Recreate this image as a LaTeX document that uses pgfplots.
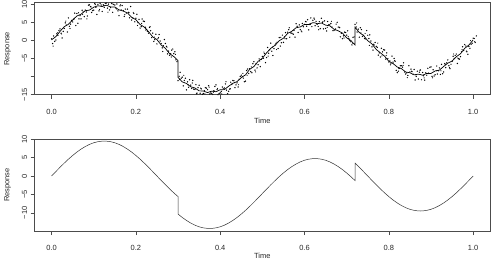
\documentclass[border=0pt]{standalone}
\usepackage{fontspec}
\setmainfont{Liberation Sans}
\usepackage{pgfplots}
\usepackage{pgfplotstable}
\pgfplotsset{compat=1.18}

\pgfplotstableread{
t f e
0.00 0.00 0.15
0.01 1.19 -0.20
0.02 2.36 0.10
0.03 3.49 0.25
0.04 4.57 -0.15
0.05 5.57 0.05
0.06 6.49 0.20
0.07 7.30 -0.10
0.08 8.00 0.15
0.09 8.58 -0.25
0.10 9.02 0.10
0.11 9.31 0.20
0.12 9.46 -0.15
0.125 9.48 0.05
0.13 9.46 0.20
0.14 9.31 -0.10
0.15 9.02 0.15
0.16 8.58 -0.20
0.17 8.00 0.05
0.18 7.30 0.25
0.19 6.49 -0.15
0.20 5.57 0.10
0.21 4.57 -0.20
0.22 3.49 0.15
0.23 2.36 0.05
0.24 1.19 -0.25
0.25 0.00 0.20
0.26 -1.19 -0.10
0.27 -2.36 0.15
0.28 -3.49 -0.20
0.29 -4.57 0.10
0.30 -5.57 -0.05
0.30 -10.31 0.10
0.31 -11.23 -0.20
0.32 -12.04 0.15
0.33 -12.74 -0.05
0.34 -13.32 0.20
0.35 -13.76 -0.15
0.36 -14.05 0.10
0.37 -14.20 -0.20
0.375 -14.22 0.05
0.38 -14.20 0.20
0.39 -14.05 -0.10
0.40 -13.76 0.15
0.41 -13.32 -0.25
0.42 -12.74 0.10
0.43 -12.04 0.20
0.44 -11.23 -0.15
0.45 -10.31 0.05
0.46 -9.31 -0.20
0.47 -8.23 0.25
0.48 -7.10 -0.10
0.49 -5.93 0.15
0.50 -4.74 -0.20
0.51 -3.55 0.10
0.52 -2.38 0.20
0.53 -1.25 -0.15
0.54 -0.17 0.05
0.55 0.83 -0.25
0.56 1.75 0.15
0.57 2.56 -0.05
0.58 3.26 0.20
0.59 3.84 -0.15
0.60 4.28 0.10
0.61 4.57 -0.20
0.62 4.72 0.15
0.625 4.74 0.05
0.63 4.72 -0.15
0.64 4.57 0.20
0.65 4.28 -0.10
0.66 3.84 0.15
0.67 3.26 -0.20
0.68 2.56 0.05
0.69 1.75 0.25
0.70 0.83 -0.15
0.71 -0.17 0.10
0.72 -1.25 -0.05
0.72 3.49 0.10
0.73 2.36 -0.20
0.74 1.19 0.15
0.75 0.00 -0.10
0.76 -1.19 0.20
0.77 -2.36 -0.15
0.78 -3.49 0.05
0.79 -4.57 0.20
0.80 -5.57 -0.20
0.81 -6.49 0.10
0.82 -7.30 -0.05
0.83 -8.00 0.20
0.84 -8.58 -0.15
0.85 -9.02 0.10
0.86 -9.31 -0.20
0.87 -9.46 0.15
0.875 -9.48 0.05
0.88 -9.46 -0.15
0.89 -9.31 0.20
0.90 -9.02 -0.10
0.91 -8.58 0.15
0.92 -8.00 -0.20
0.93 -7.30 0.10
0.94 -6.49 0.20
0.95 -5.57 -0.15
0.96 -4.57 0.05
0.97 -3.49 -0.20
0.98 -2.36 0.15
0.99 -1.19 -0.10
1.00 0.00 0.10
}\curve

\pgfplotstableread{
t f d1 d2 d3 d4 d5
0.00 0.00 0.4 -0.9 1.2 -0.3 -1.6
0.01 1.19 -1.1 0.6 0.2 1.5 0.9
0.02 2.36 0.8 -0.4 -1.7 0.1 -0.6
0.03 3.49 -0.2 1.3 0.7 -1.2 1.8
0.04 4.57 1.6 -0.7 -0.1 0.9 -1.3
0.05 5.57 -0.5 0.2 1.9 -1.5 0.4
0.06 6.49 0.9 -1.8 -0.6 0.3 1.1
0.07 7.30 -1.4 1.0 0.5 -0.8 -0.2
0.08 8.00 0.3 -0.2 -1.3 1.7 -2.1
0.09 8.58 1.2 0.7 -0.9 -0.4 0.6
0.10 9.02 -0.7 1.1 0.1 -1.9 0.8
0.11 9.31 0.6 -1.2 0.9 0.4 -0.8
0.12 9.46 -1.5 0.3 -0.4 0.7 0.2
0.13 9.46 0.8 -0.6 0.5 -1.1 -1.7
0.14 9.31 -0.3 0.9 -1.6 0.6 0.7
0.15 9.02 0.7 -0.1 1.0 -0.9 -0.4
0.16 8.58 -1.8 0.9 -0.2 1.0 1.2
0.17 8.00 0.2 -1.4 0.6 -0.5 -0.9
0.18 7.30 1.3 0.4 -1.1 2.0 0.3
0.19 6.49 -0.9 -0.3 0.9 -1.4 1.2
0.20 5.57 0.5 1.6 -0.7 0.2 -1.5
0.21 4.57 -1.2 -0.8 1.3 0.7 0.1
0.22 3.49 1.7 0.1 -0.5 -1.0 -0.7
0.23 2.36 -0.4 1.2 0.3 -1.6 1.4
0.24 1.19 0.8 -1.5 -1.0 0.5 -0.3
0.25 0.00 -1.0 0.5 1.6 -0.2 0.8
0.26 -1.19 0.3 -0.9 -0.3 1.4 -1.9
0.27 -2.36 1.5 0.7 -1.4 -0.6 0.5
0.28 -3.49 -0.6 -0.2 0.8 1.1 -1.1
0.29 -4.57 0.9 1.4 -0.8 -1.3 0.7
0.30 -10.31 -0.8 0.4 1.5 -0.1 -0.5
0.31 -11.23 1.1 -1.3 0.2 0.8 1.6
0.32 -12.04 -1.6 0.6 -0.9 1.2 -0.2
0.33 -12.74 0.4 -0.5 1.7 -0.7 1.0
0.34 -13.32 -0.2 1.1 -1.2 0.3 -1.4
0.35 -13.76 1.4 -0.8 0.4 -1.1 0.6
0.36 -14.05 -0.6 0.2 1.0 0.9 -0.7
0.37 -14.20 0.6 1.7 -0.6 -0.3 1.3
0.38 -14.20 -0.4 -0.7 0.3 1.5 -0.1
0.39 -14.05 1.8 0.5 -0.9 -0.6 0.8
0.40 -13.76 -0.7 -0.3 0.9 0.4 -1.0
0.41 -13.32 0.2 1.3 -0.4 -1.4 1.9
0.42 -12.74 -1.3 -0.7 1.2 0.6 -0.6
0.43 -12.04 1.0 0.9 -1.0 -0.2 0.4
0.44 -11.23 -0.5 -1.6 0.5 1.3 -1.0
0.45 -10.31 0.7 0.3 -0.1 -1.1 1.2
0.46 -9.31 -1.9 1.0 1.4 0.2 -0.3
0.47 -8.23 0.4 -0.4 -0.7 1.8 0.9
0.48 -7.10 1.2 -1.1 0.6 -0.5 -1.6
0.49 -5.93 -0.8 0.8 -1.3 0.7 0.2
0.50 -4.74 0.3 -0.2 1.1 -1.4 1.5
0.51 -3.55 -1.2 1.6 0.0 0.9 -0.8
0.52 -2.38 1.6 -0.6 -1.8 0.1 0.5
0.53 -1.25 -0.1 0.4 0.7 -1.0 -1.3
0.54 -0.17 0.9 -1.4 -0.5 1.6 1.0
0.55 0.83 -1.4 0.1 1.3 -0.4 -0.4
0.56 1.75 0.5 1.2 -0.9 0.3 1.7
0.57 2.56 -0.6 -0.8 0.2 -1.7 -0.9
0.58 3.26 1.3 0.6 -1.1 1.0 0.3
0.59 3.84 -0.9 -1.3 0.8 -0.1 -1.5
0.60 4.28 0.1 0.9 -0.4 1.4 0.8
0.61 4.57 -1.7 -0.2 1.6 -0.8 -0.2
0.62 4.72 0.8 1.4 -0.7 0.5 1.1
0.63 4.72 -0.3 -0.9 0.4 -1.5 -1.8
0.64 4.57 1.5 0.3 -1.4 0.8 0.6
0.65 4.28 -1.0 -1.7 0.9 0.0 -0.7
0.66 3.84 0.4 0.8 -0.2 -1.2 1.4
0.67 3.26 -0.5 -0.3 1.2 1.7 -0.1
0.68 2.56 1.1 1.0 -1.6 -0.6 0.9
0.69 1.75 -1.3 -0.5 0.5 0.4 -1.1
0.70 0.83 0.6 1.8 -0.3 -0.9 0.2
0.71 -0.17 -0.2 -1.1 1.0 1.1 -0.6
0.72 3.49 0.9 0.2 -1.2 -0.4 1.3
0.73 2.36 -1.5 1.1 0.6 -1.3 -0.3
0.74 1.19 0.2 -0.7 -0.8 1.5 0.7
0.75 0.00 1.4 0.5 1.5 -0.2 -1.4
0.76 -1.19 -0.6 -1.5 -0.1 0.6 0.1
0.77 -2.36 0.7 0.4 -1.7 -1.1 1.6
0.78 -3.49 -1.1 1.3 0.3 0.9 -0.8
0.79 -4.57 1.9 -0.6 1.1 -0.5 0.4
0.80 -5.57 -0.4 -0.1 -0.9 1.2 -1.2
0.81 -6.49 0.5 1.5 0.7 -1.8 0.9
0.82 -7.30 -1.6 -1.2 -0.4 0.3 -0.5
0.83 -8.00 1.0 0.6 1.8 -0.7 1.1
0.84 -8.58 -0.7 -0.4 -1.1 1.6 -1.7
0.85 -9.02 0.3 1.1 0.4 -0.3 0.5
0.86 -9.31 1.3 -1.6 -0.6 0.8 -0.2
0.87 -9.46 -1.2 0.7 1.3 -1.4 1.2
0.88 -9.46 0.6 -0.3 -1.5 0.5 -0.9
0.89 -9.31 -0.3 1.6 0.2 1.9 0.3
0.90 -9.02 1.7 -0.9 0.9 -0.8 -1.3
0.91 -8.58 -0.9 0.2 -0.7 0.2 1.5
0.92 -8.00 0.4 -1.4 1.4 -1.2 -0.4
0.93 -7.30 -1.4 0.9 -0.2 1.1 0.7
0.94 -6.49 1.1 -0.5 -1.3 -0.1 -1.0
0.95 -5.57 -0.2 1.2 0.6 1.4 1.8
0.96 -4.57 0.8 -1.8 -0.5 -0.6 -0.3
0.97 -3.49 -1.0 0.3 1.7 0.7 0.9
0.98 -2.36 1.2 0.8 -0.8 -1.5 -0.6
0.99 -1.19 -0.5 -1.0 0.1 0.4 1.1
1.00 0.00 0.6 0.5 -0.6 1.2 -0.4
}\noise

\pgfplotsset{
  rstyle/.style={
    scale only axis, width=455.3bp,
    xmin=-0.04, xmax=1.04,
    axis line style={black!70, line width=0.6bp},
    every tick/.style={black!70, line width=0.6bp},
    major tick length=4bp, tick align=outside,
    xtick pos=left, ytick pos=left,
    xtick={0,0.2,0.4,0.6,0.8,1}, xticklabels={0.0,0.2,0.4,0.6,0.8,1.0},
    tick label style={font=\fontsize{7.5}{9}\selectfont, text=black!85},
    xticklabel shift=7bp,
    yticklabel style={rotate=90, anchor=south},
    xlabel={Time}, ylabel={Response},
    label style={font=\fontsize{7.5}{9}\selectfont, text=black!85},
    xlabel style={at={(axis description cs:0.5,-0.28)}, anchor=center},
    ylabel style={at={(axis description cs:-0.0595,0.5)}, anchor=center},
  },
  noisemark/.style={only marks, mark=*, mark size=0.45bp, mark options={draw=none, fill=black!25}},
}

\begin{document}
\begin{tikzpicture}
\useasboundingbox (0,0) rectangle (496bp,262bp);
% top panel
\begin{axis}[rstyle, at={(34.7bp,167.2bp)}, anchor=south west,
  height=92.1bp, ymin=-15.0, ymax=10.36,
  ytick={-15,-10,-5,0,5,10}, yticklabels={−15,,−5,0,5,10}]
\addplot[noisemark] table[x=t, y expr=\thisrow{f}+\thisrow{d1}] {\noise};
\addplot[noisemark] table[x expr=\thisrow{t}+0.0025, y expr=\thisrow{f}+\thisrow{d2}] {\noise};
\addplot[noisemark] table[x expr=\thisrow{t}+0.005, y expr=\thisrow{f}+\thisrow{d3}] {\noise};
\addplot[noisemark] table[x expr=\thisrow{t}+0.0075, y expr=\thisrow{f}+\thisrow{d4}] {\noise};
\addplot[only marks, mark=*, mark size=0.3bp, mark options={draw=none, fill=black!75}] table[x expr=\thisrow{t}+0.00375, y expr=\thisrow{f}+\thisrow{d5}] {\noise};
\addplot[black, line width=0.7bp] table[x=t, y expr=\thisrow{f}+\thisrow{e}] {\curve};
\end{axis}
% bottom panel
\begin{axis}[rstyle, at={(34.7bp,31bp)}, anchor=south west,
  height=92bp, ymin=-14.9, ymax=10.04,
  ytick={-10,-5,0,5,10}, yticklabels={−10,−5,0,5,10},
  xlabel style={at={(axis description cs:0.5,-0.272)}, anchor=center}]
\addplot[black!80, line width=0.5bp] table[x=t, y=f] {\curve};
\end{axis}
\end{tikzpicture}
\end{document}
